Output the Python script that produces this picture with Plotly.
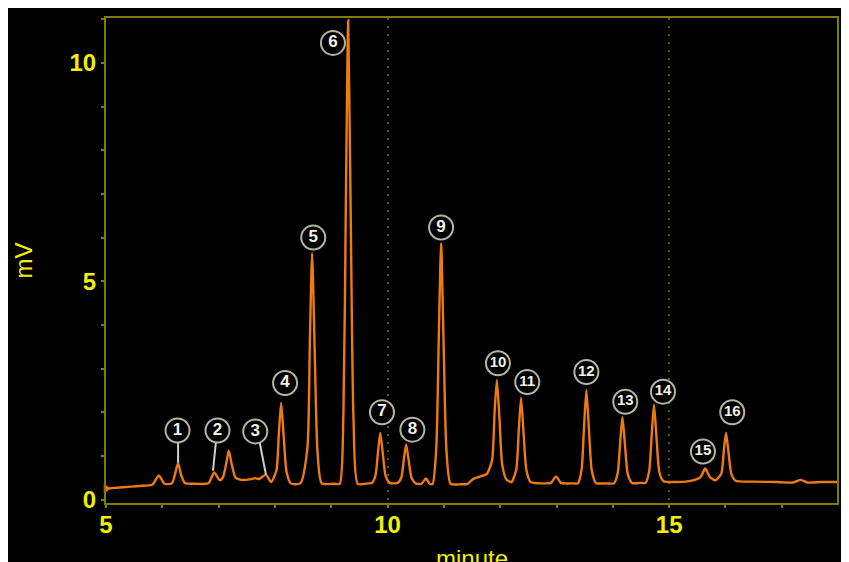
import plotly.graph_objects as go

# Chromatogram trace (minutes, mV)
rt = [5.0, 5.3, 5.6, 5.82, 5.94, 6.04,
      6.17, 6.23, 6.28, 6.33, 6.40, 6.6, 6.82, 6.92, 7.02,
      7.08, 7.14, 7.18, 7.23, 7.30, 7.40, 7.55, 7.65, 7.72, 7.84, 7.93,
      8.025, 8.07, 8.11, 8.155, 8.205, 8.28, 8.45,
      8.575, 8.62, 8.66, 8.705, 8.755, 8.83, 9.05,
      9.15, 9.215, 9.26, 9.30, 9.345, 9.395, 9.47, 9.65,
      9.72, 9.785, 9.83, 9.87, 9.915, 9.965, 10.04,
      10.18, 10.245, 10.29, 10.33, 10.375, 10.425, 10.50,
      10.60, 10.68, 10.75,
      10.80, 10.865, 10.91, 10.95, 10.995, 11.045, 11.12,
      11.3, 11.42, 11.52, 11.65, 11.76,
      11.855, 11.90, 11.94, 11.985, 12.035, 12.11, 12.2,
      12.285, 12.33, 12.37, 12.415, 12.465, 12.54, 12.75, 12.9, 12.99, 13.08,
      13.3, 13.38, 13.445, 13.49, 13.53, 13.575, 13.625, 13.70, 13.9, 14.02,
      14.085, 14.13, 14.17, 14.215, 14.265, 14.34, 14.5, 14.58,
      14.645, 14.69, 14.73, 14.775, 14.825, 14.90, 15.1, 15.3, 15.48,
      15.56, 15.64, 15.72, 15.82,
      15.925, 15.97, 16.01, 16.055, 16.105, 16.18,
      16.5, 16.9, 17.2, 17.34, 17.45, 17.7, 17.98]
mv = [0.25, 0.28, 0.31, 0.34, 0.55, 0.36,
      0.37, 0.60, 0.84, 0.58, 0.38, 0.36, 0.37, 0.62, 0.44,
      0.52, 0.86, 1.12, 0.82, 0.50, 0.45, 0.46, 0.49, 0.47, 0.57, 0.40,
      0.66, 1.52, 2.22, 1.45, 0.64, 0.37, 0.37,
      1.16, 3.64, 5.64, 3.43, 1.11, 0.37, 0.36,
      0.36, 1.95, 6.94, 10.98, 6.52, 1.85, 0.36, 0.37,
      0.38, 0.55, 1.09, 1.53, 1.05, 0.54, 0.38,
      0.38, 0.51, 0.93, 1.26, 0.89, 0.50, 0.37,
      0.36, 0.48, 0.36,
      0.36, 1.19, 3.78, 5.87, 3.56, 1.13, 0.36,
      0.35, 0.36, 0.47, 0.53, 0.58,
      0.90, 2.00, 2.74, 1.90, 0.80, 0.46, 0.40,
      0.69, 1.60, 2.33, 1.52, 0.67, 0.40, 0.37, 0.38, 0.53, 0.38,
      0.37, 0.37, 0.69, 1.70, 2.51, 1.61, 0.67, 0.38, 0.37, 0.37,
      0.60, 1.31, 1.89, 1.25, 0.58, 0.38, 0.38, 0.38,
      0.65, 1.49, 2.17, 1.42, 0.63, 0.42, 0.40, 0.41, 0.46,
      0.52, 0.71, 0.52, 0.44,
      0.59, 1.11, 1.53, 1.06, 0.58, 0.43,
      0.41, 0.40, 0.39, 0.45, 0.39, 0.40, 0.40]

# Peak labels (circle centre positions)
peak_ids = ["1", "2", "3", "4", "5", "6", "7", "8", "9", "10", "11", "12", "13", "14", "15", "16"]
label_rt = [6.27, 6.98, 7.65, 8.18, 8.68, 9.03, 9.90, 10.44, 10.95, 11.96, 12.48, 13.53, 14.22, 14.89, 15.60, 16.12]
label_mv = [1.58, 1.58, 1.56, 2.67, 6.00, 10.46, 2.00, 1.60, 6.23, 3.12, 2.69, 2.92, 2.24, 2.47, 1.10, 2.00]

# Leader lines for peaks 1-3: (label end, peak end)
lead_rt = [[6.28, 6.28], [6.95, 6.90], [7.73, 7.84]]
lead_mv = [[1.32, 0.84], [1.30, 0.66], [1.30, 0.57]]

x_ticks = [5, 10, 15]
y_ticks = [0, 5, 10]

ORANGE = "#ee7a12"
AXIS = "#7d7d05"
YEL = "#f0f000"
FONT = "Liberation Sans"

fig = go.Figure()
fig.add_trace(go.Scatter(
    x=rt, y=mv, mode="lines",
    line=dict(color=ORANGE, width=2.4, shape="spline", smoothing=0.6),
    hoverinfo="skip", showlegend=False))
fig.add_trace(go.Scatter(
    x=rt[:1], y=mv[:1], mode="markers",
    marker=dict(symbol="triangle-right", size=9, color=ORANGE),
    cliponaxis=False, showlegend=False, hoverinfo="skip"))

for lx, ly in zip(lead_rt, lead_mv):
    fig.add_trace(go.Scatter(x=lx, y=ly, mode="lines",
                             line=dict(color="#d0d0c8", width=2),
                             showlegend=False, hoverinfo="skip"))

fig.add_trace(go.Scatter(
    x=label_rt, y=label_mv, mode="markers+text",
    text=["<b>%s</b>" % s for s in peak_ids], textposition="middle center",
    textfont=dict(family=FONT, color="#f2f2e6",
                  size=[17 if len(s) == 1 else 15 for s in peak_ids]),
    marker=dict(symbol="circle", size=24, color="rgba(0,0,0,0.85)",
                line=dict(color="#b4b4a6", width=2)),
    cliponaxis=False, showlegend=False, hoverinfo="skip"))

axis_common = dict(
    showline=True, linecolor=AXIS, linewidth=2, mirror=True,
    ticks="outside", ticklen=3, tickwidth=2, tickcolor=AXIS,
    tickfont=dict(family=FONT, size=24, color=YEL, weight="bold"),
    zeroline=False, fixedrange=True,
)

fig.update_xaxes(range=[5, 17.98], tickvals=x_ticks,
                 showgrid=True, gridcolor="#5a5a00", griddash="2px,6px", gridwidth=2,
                 minor=dict(dtick=1, tick0=5, ticks="outside", ticklen=3, tickcolor=AXIS, tickwidth=2, showgrid=False),
                 ticklabelstandoff=-4, **axis_common)
fig.update_yaxes(range=[-0.08, 11.03], tickvals=y_ticks, showgrid=False,
                 minor=dict(dtick=1, tick0=0, ticks="outside", ticklen=3, tickcolor=AXIS, tickwidth=2, showgrid=False),
                 ticklabelstandoff=0, **axis_common)

# The page is shown with the browser's 8px body margin, so figure px = page px - 8
W, H = 849, 562
L, R, T, B = 98, 20, 8, 67
pw, ph = W - L - R, H - T - B

def px(x):
    return (x - L) / pw

def py(y):
    return (H - B - y) / ph

fig.update_layout(
    width=W, height=H,
    margin=dict(l=L, r=R, t=T, b=B, pad=0),
    paper_bgcolor="black", plot_bgcolor="black",
    annotations=[
        dict(text="mV", xref="paper", yref="paper", x=px(15), y=0.5, textangle=-90,
             showarrow=False, xanchor="center", yanchor="middle",
             font=dict(family=FONT, size=24, color=YEL)),
        dict(text="minute", xref="paper", yref="paper", x=0.5, y=py(535), yanchor="top",
             showarrow=False, xanchor="center",
             font=dict(family=FONT, size=24, color=YEL)),
    ],
)

fig.write_html("out.html")
